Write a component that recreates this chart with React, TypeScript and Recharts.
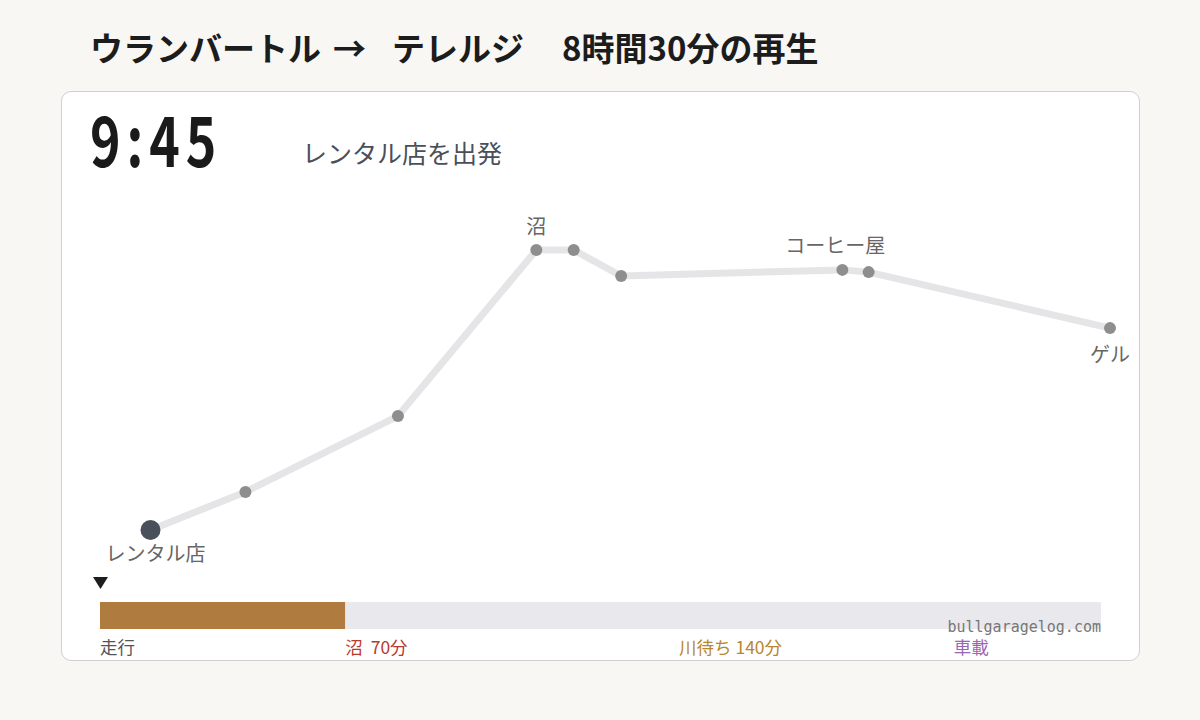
import React from 'react';
import { LineChart, Line, XAxis, YAxis, BarChart, Bar } from 'recharts';

// route points (relative map position, 0-100)
const routeX = [5, 14.4, 29.5, 43.2, 46.9, 51.6, 73.5, 76.1, 100];
const routeY = [0, 13.6, 40.7, 100, 100, 90.7, 92.9, 92.1, 72.1];
const routeLabels = ['レンタル店', '', '', '沼', '', '', 'コーヒー屋', '', 'ゲル'];
const labelSide = ['below', '', '', 'above', '', '', 'above', '', 'below'];

// timeline (minutes from start, total 8h30m)
const totalMinutes = 510;
const elapsedMinutes = 125;
const stopStarts = [0, 125, 295, 435];
const stopNames = ['走行', '沼  70分', '川待ち 140分', '車載'];
const stopColors = ['#555555', '#b8392f', '#b8872c', '#9a68b3'];

const routeData = routeX.map((x, i) => ({ x, y: routeY[i], label: routeLabels[i], side: labelSide[i] }));
const barData = [{ name: 'trip', done: elapsedMinutes, rest: totalMinutes - elapsedMinutes }];

const font = '"Noto Sans CJK JP", "Noto Sans", sans-serif';

function RouteDot(props: any) {
  const { cx, cy, index, payload } = props;
  const first = index === 0;
  let label = null;
  if (payload.label) {
    const dy = payload.side === 'below' ? (first ? 22 : 25) : -25;
    const dx = first ? 5 : payload.label === 'コーヒー屋' ? -7 : 0;
    label = (
      <text x={cx + dx} y={cy + dy} textAnchor="middle" dominantBaseline="central"
        fontSize={20} fill="#666" fontFamily={font}>
        {payload.label}
      </text>
    );
  }
  return (
    <g key={`dot-${index}`}>
      <circle cx={cx} cy={cy} r={first ? 10 : 6} fill={first ? '#4a505b' : '#8e8e8e'} />
      {label}
    </g>
  );
}

function StopTick(props: any) {
  const { x, y, index } = props;
  return (
    <text x={x} y={y} dy={17} textAnchor="start" fontSize={17.5} fill={stopColors[index]}
      fontFamily={font} style={{ whiteSpace: 'pre' }}>
      {stopNames[index]}
    </text>
  );
}

export default function App() {
  return (
    <div style={{ position: 'absolute', left: 0, top: 0, width: 1200, height: 720, background: '#f8f7f4', fontFamily: font, overflow: 'hidden' }}>
      <div style={{ position: 'absolute', left: 90, top: 22, fontSize: 33, fontWeight: 700, color: '#1c1c1c', whiteSpace: 'pre', lineHeight: '50px' }}>
        <span>ウランバートル</span>
        <span style={{ marginLeft: 12 }}>→</span>
        <span style={{ marginLeft: 26 }}>テレルジ</span>
        <span style={{ marginLeft: 38 }}>8時間30分の再生</span>
      </div>
      <div style={{ position: 'absolute', left: 61, top: 91, width: 1077, height: 568, background: '#fff', border: '1.5px solid #cfcfcf', borderRadius: 10 }} />
      <div style={{ position: 'absolute', left: 90, top: 92, fontSize: 70, fontWeight: 700, color: '#1a1a1a', lineHeight: '90px', letterSpacing: 8, transform: 'scaleX(0.74)', transformOrigin: 'left', whiteSpace: 'pre' }}>
        9:45
      </div>
      <div style={{ position: 'absolute', left: 302, top: 135, fontSize: 25, color: '#4a4f5a', lineHeight: '34px' }}>
        レンタル店を出発
      </div>

      <div style={{ position: 'absolute', left: 0, top: 0 }}>
        <LineChart width={1200} height={720} data={routeData} margin={{ top: 250, right: 90, bottom: 190, left: 100 }}>
          <XAxis type="number" dataKey="x" domain={[0, 100]} hide />
          <YAxis type="number" domain={[0, 100]} hide />
          <Line type="linear" dataKey="y" stroke="#e5e5e7" strokeWidth={7} strokeLinejoin="round"
            dot={RouteDot} activeDot={false} isAnimationActive={false} />
        </LineChart>
      </div>

      <svg style={{ position: 'absolute', left: 93, top: 577 }} width={16} height={13}>
        <polygon points="0,0 15,0 7.5,12" fill="#1e1e1e" />
      </svg>

      <div style={{ position: 'absolute', left: 0, top: 595 }}>
        <BarChart width={1200} height={70} layout="vertical" data={barData} barCategoryGap={0}
          margin={{ top: 7, right: 99, bottom: 4, left: 100 }}>
          <XAxis type="number" domain={[0, totalMinutes]} ticks={stopStarts} interval={0} height={32}
            axisLine={false} tickLine={false} tick={StopTick} />
          <YAxis type="category" dataKey="name" hide />
          <Bar dataKey="done" stackId="t" fill="#b07b3f" isAnimationActive={false} />
          <Bar dataKey="rest" stackId="t" fill="#e9e8ed" isAnimationActive={false} />
        </BarChart>
      </div>

      <div style={{ position: 'absolute', right: 99, top: 617, fontSize: 15, fontFamily: '"DejaVu Sans Mono", monospace', color: '#777', lineHeight: '20px' }}>
        bullgaragelog.com
      </div>
    </div>
  );
}
